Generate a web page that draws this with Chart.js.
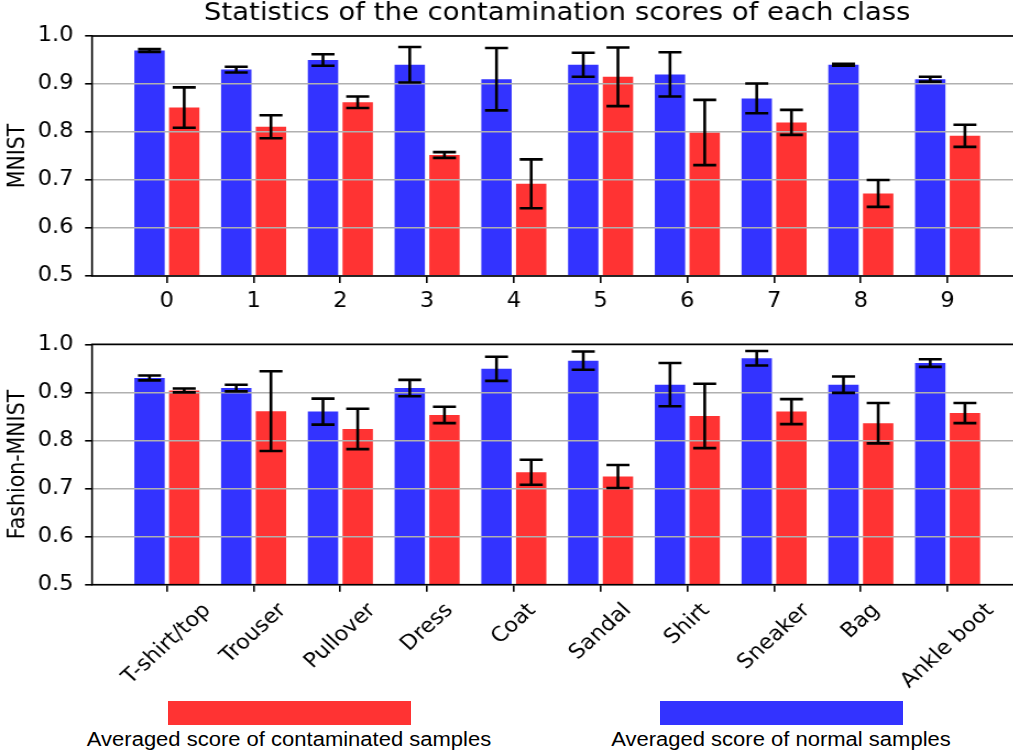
<!DOCTYPE html>
<html>
<head>
<meta charset="utf-8">
<title>Statistics of the contamination scores of each class</title>
<script src="https://cdn.jsdelivr.net/npm/chart.js@4.4.0/dist/chart.umd.min.js"></script>
<style>
  html, body { margin: 0; padding: 0; background: #fff; overflow: hidden; width: 1013px; height: 753px; }
  #wrap { position: relative; width: 1013px; height: 753px; overflow: hidden; }
  canvas { position: absolute; left: 0; }
  #mnistChart { top: 0; }
  #fashionChart { top: 300px; }
  .key { position: absolute; top: 701px; height: 24px; }
  .keytext {
    position: absolute; top: 727px; width: 500px; height: 24px;
    text-align: center; white-space: nowrap;
    font-family: 'Liberation Sans', Arial, sans-serif; font-size: 20px; line-height: 24px;
    color: #000; transform: scaleX(1.1);
  }
</style>
</head>
<body>
<div id="wrap">
  <!-- canvases are drawn at 946 px and widened to 1040.6 px (x1.1) -->
  <canvas id="mnistChart" width="946" height="320" style="width:1040.6px;height:320px"></canvas>
  <canvas id="fashionChart" width="946" height="400" style="width:1040.6px;height:400px"></canvas>
  <div class="key" style="left:168px;width:243px;background:#ff3333;"></div>
  <div class="keytext" style="left:39px;">Averaged score of contaminated samples</div>
  <div class="key" style="left:660px;width:243px;background:#3333ff;"></div>
  <div class="keytext" style="left:531px;">Averaged score of normal samples</div>
</div>
<script>
// Class names for both datasets
const mnistClasses = ['0', '1', '2', '3', '4', '5', '6', '7', '8', '9'];
const fashionClasses = ['T-shirt/top', 'Trouser', 'Pullover', 'Dress', 'Coat',
                        'Sandal', 'Shirt', 'Sneaker', 'Bag', 'Ankle boot'];

// MNIST: averaged score and spread, normal vs contaminated samples
const mnistNormalMean  = [0.970, 0.930, 0.950, 0.940, 0.910, 0.940, 0.920, 0.870, 0.940, 0.910];
const mnistNormalErr   = [0.003, 0.006, 0.012, 0.037, 0.065, 0.025, 0.046, 0.031, 0.002, 0.005];
const mnistContamMean  = [0.851, 0.811, 0.862, 0.752, 0.692, 0.915, 0.799, 0.820, 0.672, 0.792];
const mnistContamErr   = [0.042, 0.024, 0.012, 0.006, 0.051, 0.061, 0.068, 0.026, 0.028, 0.023];

// Fashion-MNIST
const fashionNormalMean = [0.930, 0.909, 0.860, 0.909, 0.949, 0.966, 0.916, 0.971, 0.916, 0.961];
const fashionNormalErr  = [0.005, 0.007, 0.027, 0.017, 0.025, 0.019, 0.045, 0.015, 0.017, 0.008];
const fashionContamMean = [0.904, 0.861, 0.824, 0.853, 0.734, 0.725, 0.851, 0.860, 0.836, 0.857];
const fashionContamErr  = [0.004, 0.083, 0.042, 0.017, 0.026, 0.024, 0.067, 0.026, 0.042, 0.021];

// Shared y-axis ticks
const yTicks = [0.5, 0.6, 0.7, 0.8, 0.9, 1.0];

const BLUE = '#3333ff';
const RED = '#ff3333';
const FONT = "'DejaVu Sans', sans-serif";
const FS = 20.5;          // tick / axis label size
const TITLE_FS = 25;      // figure title size
const SX = 1.1;           // horizontal widening applied by CSS

Chart.defaults.font.family = FONT;
Chart.defaults.font.size = FS;
Chart.defaults.color = '#000';

const toPoints = vals => vals.map((v, i) => ({ x: i, y: v }));

// Black frame around the plotting area
const frame = {
  id: 'frame',
  afterDraw(chart) {
    const { ctx, chartArea: a } = chart;
    ctx.save();
    ctx.strokeStyle = '#000';
    ctx.lineWidth = 1.6;
    ctx.strokeRect(a.left, a.top, a.right - a.left, a.bottom - a.top);
    ctx.restore();
  }
};

// Error bars with caps, placed via the y scale
const errorBars = {
  id: 'errorBars',
  afterDraw(chart) {
    const { ctx } = chart;
    const ys = chart.scales.y;
    ctx.save();
    ctx.strokeStyle = '#000';
    ctx.lineWidth = 2.6;
    ctx.lineCap = 'butt';
    const cap = 11.5 / SX;
    chart.data.datasets.forEach((ds, di) => {
      const meta = chart.getDatasetMeta(di);
      meta.data.forEach((bar, i) => {
        const v = ds.data[i].y;
        const e = ds.errorBars[i];
        const yHi = ys.getPixelForValue(v + e);
        const yLo = ys.getPixelForValue(v - e);
        const x = bar.x;
        ctx.beginPath();
        ctx.moveTo(x, yHi); ctx.lineTo(x, yLo);
        ctx.moveTo(x - cap, yHi); ctx.lineTo(x + cap, yHi);
        ctx.moveTo(x - cap, yLo); ctx.lineTo(x + cap, yLo);
        ctx.stroke();
      });
    });
    ctx.restore();
  }
};

// Category names rotated 45 degrees, centred under each tick
const rotatedLabels = {
  id: 'rotatedLabels',
  afterDraw(chart, args, opts) {
    if (!opts.labels) return;
    const { ctx } = chart;
    const xs = chart.scales.x;
    ctx.save();
    ctx.font = FS + 'px ' + FONT;
    ctx.fillStyle = '#000';
    ctx.textAlign = 'center';
    ctx.textBaseline = 'middle';
    const top = chart.chartArea.bottom + 7 + 7;
    opts.labels.forEach((lab, i) => {
      const w = ctx.measureText(lab).width;
      const h = FS * 1.17;
      const half = (w + h) / (2 * Math.SQRT2);
      ctx.save();
      ctx.translate(xs.getPixelForValue(i), top + half);
      ctx.rotate(-Math.PI / 4);
      ctx.fillText(lab, 0, 0);
      ctx.restore();
    });
    ctx.restore();
  }
};

function buildChart(id, cfg) {
  const canvas = document.getElementById(id);
  const rightPad = canvas.width - 1022 / SX;
  return new Chart(canvas, {
    type: 'bar',
    data: {
      datasets: [
        { label: 'Averaged score of normal samples', data: toPoints(cfg.normal),
          errorBars: cfg.normalErr, backgroundColor: BLUE, borderWidth: 0 },
        { label: 'Averaged score of contaminated samples', data: toPoints(cfg.contam),
          errorBars: cfg.contamErr, backgroundColor: RED, borderWidth: 0 }
      ]
    },
    options: {
      responsive: false,
      animation: false,
      devicePixelRatio: 1,
      categoryPercentage: 0.8,
      barPercentage: 0.875,
      layout: { padding: { top: cfg.padTop, right: rightPad, left: 0, bottom: 0 } },
      events: [],
      plugins: {
        legend: { display: false },
        tooltip: { enabled: false },
        title: cfg.title ? {
          display: true, text: cfg.title, fullSize: false,
          font: { family: FONT, size: TITLE_FS, weight: 'normal', lineHeight: 1.08 },
          color: '#000', padding: { top: 0, bottom: 36 - TITLE_FS * 1.08 }
        } : { display: false },
        rotatedLabels: { labels: cfg.rotated }
      },
      scales: {
        x: {
          type: 'linear',
          min: -0.8625,
          max: 9.8625,
          offset: false,
          afterFit: s => { s.height = cfg.xHeight; },
          border: { display: false },
          grid: { display: true, offset: false, drawOnChartArea: false, drawTicks: true,
                  tickLength: 7, tickColor: '#000', lineWidth: 1.6 },
          ticks: {
            stepSize: 1, includeBounds: false, autoSkip: false,
            maxRotation: 0, minRotation: 0, padding: 6.5,
            font: { size: FS, lineHeight: 1.2 },
            callback: v => (cfg.rotated ? '' : (cfg.classes[v] ?? ''))
          }
        },
        y: {
          min: yTicks[0],
          max: yTicks[yTicks.length - 1],
          afterFit: s => { s.width = 92 / SX; },
          afterBuildTicks: s => { s.ticks = yTicks.map(v => ({ value: v })); },
          border: { display: false },
          grid: { color: '#b0b0b0', lineWidth: 1.6, tickColor: '#000', tickLength: 7 / SX, z: 1 },
          ticks: { padding: 10.5, font: { size: FS }, callback: v => Number(v).toFixed(1) },
          title: { display: true, text: cfg.yTitle, font: { size: FS, lineHeight: 1.2 },
                   padding: { top: 18.5 / SX - FS * 0.6, bottom: 0 } }
        }
      }
    },
    plugins: [frame, errorBars, rotatedLabels]
  });
}

buildChart('mnistChart', {
  title: 'Statistics of the contamination scores of each class',
  yTitle: 'MNIST', classes: mnistClasses, rotated: null,
  normal: mnistNormalMean, normalErr: mnistNormalErr,
  contam: mnistContamMean, contamErr: mnistContamErr,
  padTop: 0, xHeight: 44
});

buildChart('fashionChart', {
  title: null,
  yTitle: 'Fashion-MNIST', classes: fashionClasses, rotated: fashionClasses,
  normal: fashionNormalMean, normalErr: fashionNormalErr,
  contam: fashionContamMean, contamErr: fashionContamErr,
  padTop: 44.3, xHeight: 115.3
});
</script>
</body>
</html>
